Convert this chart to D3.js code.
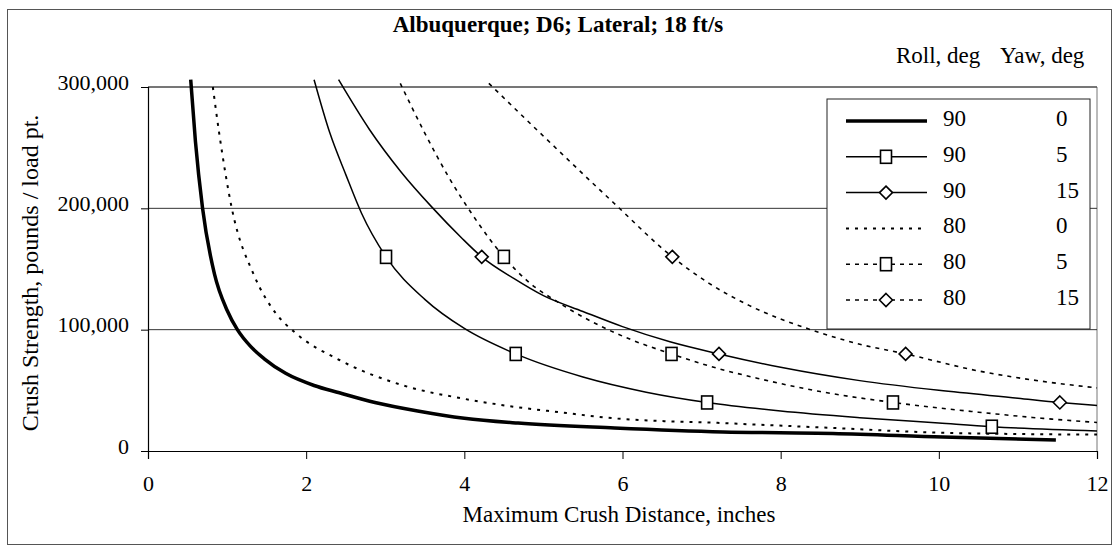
<!DOCTYPE html>
<html><head><meta charset="utf-8">
<script src="https://cdn.jsdelivr.net/npm/d3@7"></script>
<style>
html,body{margin:0;padding:0;background:#fff;}
svg text{font-family:"Liberation Serif","Times New Roman",serif;fill:#000;}
</style></head>
<body><svg id="chart" width="1114" height="547"></svg>
<script>
const chartTitle = "Albuquerque; D6; Lateral; 18 ft/s";
const xTitle = "Maximum Crush Distance, inches";
const yTitle = "Crush Strength, pounds / load pt.";
const xTicks = [0, 2, 4, 6, 8, 10, 12];
const yTicks = [0, 100000, 200000, 300000];
const rollLabels = ["90", "90", "90", "80", "80", "80"];
const yawLabels = ["0", "5", "15", "0", "5", "15"];

const curve90_0 = [[0.54,306000],[0.6,255000],[0.69,200000],[0.84,146000],[1.0,116000],[1.13,100000],[1.3,86000],[1.47,76000],[1.74,64000],[2.1,54000],[2.42,48000],[2.87,40000],[3.41,33000],[4.0,27000],[4.68,23000],[5.9,19000],[7.27,15700],[8.66,14500],[10.05,11500],[11.48,9000]];
const curve90_5 = [[2.1,306000],[2.3,262000],[2.5,228000],[2.7,196000],[3.01,160000],[3.5,125000],[4.0,101000],[4.65,80000],[5.5,61000],[6.3,48500],[7.07,40000],[8.0,33000],[9.0,27500],[10.0,23000],[10.67,20000],[12.0,16500]];
const curve90_15 = [[2.41,306000],[2.8,265000],[3.2,230000],[3.59,201000],[3.96,176000],[4.22,160000],[4.63,142000],[5.0,128000],[5.5,115000],[6.0,102500],[6.6,90000],[7.22,80000],[8.0,69000],[9.0,58000],[10.0,50000],[11.0,43500],[11.53,40000],[12.0,37500]];
const curve80_0 = [[0.82,300000],[0.9,262000],[1.06,200000],[1.34,145000],[1.61,114000],[1.87,97000],[2.42,75000],[3.23,54000],[4.0,43000],[4.68,36000],[5.2,32000],[5.88,27000],[7.27,23000],[8.66,19000],[10.05,15000],[12.0,13500]];
const curve80_5 = [[3.19,303000],[3.5,262000],[3.8,226000],[4.1,195000],[4.5,160000],[4.8,140000],[5.2,122000],[5.6,107000],[6.1,92000],[6.62,80000],[7.1,70000],[7.7,60000],[8.5,49000],[9.42,40000],[10.5,32000],[11.3,27000],[12.0,23500]];
const curve80_15 = [[4.31,303000],[4.96,262000],[5.88,205000],[6.63,160000],[7.1,138000],[7.6,120000],[8.38,100000],[9.0,88000],[9.58,80000],[10.5,66000],[11.3,57500],[12.0,52000]];

const marks90_0 = [];
const marks90_5 = [[3.01,160000],[4.65,80000],[7.07,40000],[10.67,20000]];
const marks90_15 = [[4.22,160000],[7.22,80000],[11.53,40000]];
const marks80_0 = [];
const marks80_5 = [[4.5,160000],[6.62,80000],[9.42,40000]];
const marks80_15 = [[6.63,160000],[9.58,80000]];

const curves = [curve90_0, curve90_5, curve90_15, curve80_0, curve80_5, curve80_15];
const marks = [marks90_0, marks90_5, marks90_15, marks80_0, marks80_5, marks80_15];
const markerShapes = ["none", "square", "diamond", "none", "square", "diamond"];
const strokeWidths = [3.5, 1.5, 1.5, 2, 1.6, 1.6];
const dashes = [null, null, null, "3,6", "4,5", "4,5"];

const svg = d3.select("#chart");
const L = 148, R = 1097, T = 87, B = 451;
const x = d3.scaleLinear().domain([0, 12]).range([L, R]);
const y = d3.scaleLinear().domain([0, 300000]).range([B, T]);

// outer frame
svg.append("rect").attr("x", 7.5).attr("y", 9.5).attr("width", 1104).attr("height", 535)
  .attr("fill", "none").attr("stroke", "#555").attr("stroke-width", 1);

// plot border (top/right)
svg.append("path").attr("d", `M${L},${T}H${R}V${B}`).attr("fill","none").attr("stroke","#777").attr("stroke-width",1);

// grid
svg.append("g").selectAll("line").data(yTicks.filter(d => d > 0)).join("line")
  .attr("x1", L).attr("x2", R).attr("y1", d => y(d)).attr("y2", d => y(d))
  .attr("stroke", "#333").attr("stroke-width", 1);

// axes
const fmt = d3.format(",");
const yAxis = d3.axisLeft(y).tickValues(yTicks).tickSize(7).tickPadding(12).tickFormat(fmt);
const gy = svg.append("g").attr("transform", `translate(${L},0)`).call(yAxis);
gy.select(".domain").attr("stroke", "#000").attr("stroke-width", 1.2);
gy.selectAll(".tick line").attr("stroke", "#000");
gy.selectAll(".tick text").attr("font-size", 22).attr("dy", "0.1em")
  .style("font-family", '"Liberation Serif", serif');

const xAxis = d3.axisBottom(x).tickValues(xTicks).tickSize(8).tickPadding(16).tickFormat(d3.format("d"));
const gx = svg.append("g").attr("transform", `translate(0,${B})`).call(xAxis);
gx.select(".domain").attr("stroke", "#000").attr("stroke-width", 1.2);
gx.selectAll(".tick line").attr("stroke", "#000");
gx.selectAll(".tick text").attr("font-size", 22)
  .style("font-family", '"Liberation Serif", serif');

// curves
const line = d3.line().x(d => x(d[0])).y(d => y(d[1])).curve(d3.curveMonotoneX);
curves.forEach((c, i) => {
  svg.append("path").datum(c).attr("d", line).attr("fill", "none")
    .attr("stroke", "#000").attr("stroke-width", strokeWidths[i])
    .attr("stroke-dasharray", dashes[i]).attr("stroke-linejoin", "round");
});

function drawMarker(g, shape, cx, cy) {
  if (shape === "square") {
    g.append("rect").attr("x", cx - 5.5).attr("y", cy - 6.5).attr("width", 11).attr("height", 13)
      .attr("fill", "#fff").attr("stroke", "#000").attr("stroke-width", 1.6);
  } else if (shape === "diamond") {
    g.append("path").attr("d", `M${cx},${cy-6.5}L${cx+6.5},${cy}L${cx},${cy+6.5}L${cx-6.5},${cy}Z`)
      .attr("fill", "#fff").attr("stroke", "#000").attr("stroke-width", 1.6);
  }
}
const gm = svg.append("g");
marks.forEach((m, i) => m.forEach(p => drawMarker(gm, markerShapes[i], x(p[0]), y(p[1]))));

// legend
const lg = svg.append("g");
lg.append("rect").attr("x", 827).attr("y", 99).attr("width", 263).attr("height", 230)
  .attr("fill", "#fff").attr("stroke", "#222").attr("stroke-width", 1);
rollLabels.forEach((r, i) => {
  const base = 126 + 35.8 * i;
  const ly = base - 5;
  lg.append("line").attr("x1", 846).attr("x2", 927).attr("y1", ly).attr("y2", ly)
    .attr("stroke", "#000").attr("stroke-width", strokeWidths[i]).attr("stroke-dasharray", dashes[i]);
  drawMarker(lg, markerShapes[i], 886, ly);
  lg.append("text").attr("x", 943).attr("y", base).attr("font-size", 23).text(r);
  lg.append("text").attr("x", 1056).attr("y", base).attr("font-size", 23).text(yawLabels[i]);
});
svg.append("text").attr("x", 896).attr("y", 63).attr("font-size", 23).text("Roll, deg");
svg.append("text").attr("x", 1000).attr("y", 63).attr("font-size", 23).text("Yaw, deg");

// titles
svg.append("text").attr("x", 558).attr("y", 32).attr("text-anchor", "middle")
  .attr("font-size", 23).attr("font-weight", "bold").text(chartTitle);
svg.append("text").attr("x", 619).attr("y", 522).attr("text-anchor", "middle")
  .attr("font-size", 23).text(xTitle);
svg.append("text").attr("transform", "translate(38,273) rotate(-90)").attr("text-anchor", "middle")
  .attr("font-size", 24).text(yTitle);
</script></body></html>
